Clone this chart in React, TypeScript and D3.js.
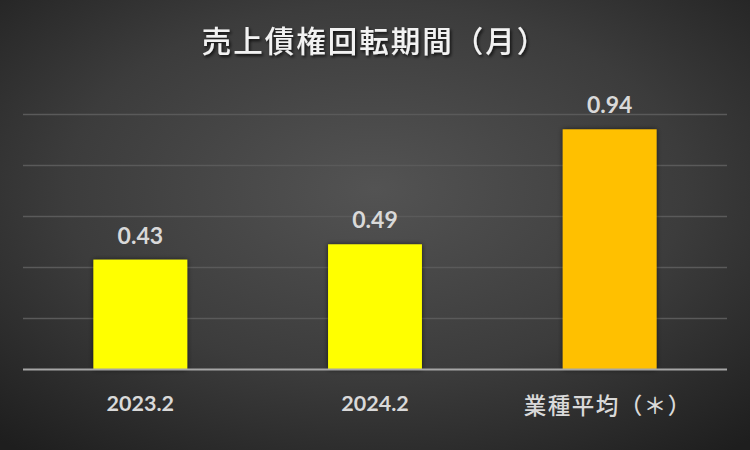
import React from "react";
import * as d3 from "d3";

const categories = ["2023.2", "2024.2", "業種平均（＊）"];
const values = [0.43, 0.49, 0.94];
const barColors = ["#FFFF00", "#FFFF00", "#FFC000"];
const valueLabels = ["0.43", "0.49", "0.94"];
const yTicks = [0, 0.2, 0.4, 0.6, 0.8, 1.0];
const title = "売上債権回転期間（月）";

const W = 750;
const H = 450;

export default function App() {
  const x = d3
    .scaleBand<string>()
    .domain(categories)
    .range([23, 727])
    .paddingInner(0.6)
    .paddingOuter(0.3);
  const y = d3.scaleLinear().domain([0, 1]).range([369.5, 114]);

  return (
    <svg
      width={W}
      height={H}
      style={{ position: "absolute", left: 0, top: 0, display: "block" }}
    >
      <defs>
        <radialGradient id="bg" cx="50%" cy="42%" r="75%">
          <stop offset="0%" stopColor="#535353" />
          <stop offset="55%" stopColor="#3c3c3c" />
          <stop offset="100%" stopColor="#1e1e1e" />
        </radialGradient>
        <filter id="tshadow" x="-10%" y="-30%" width="120%" height="160%">
          <feDropShadow dx="1.5" dy="2" stdDeviation="1.5" floodColor="#000" floodOpacity="0.75" />
        </filter>
        <filter id="bshadow" x="-20%" y="-10%" width="140%" height="120%">
          <feDropShadow dx="0" dy="0" stdDeviation="2.5" floodColor="#000" floodOpacity="0.6" />
        </filter>
      </defs>
      <rect x={0} y={0} width={W} height={H} fill="url(#bg)" />

      <text
        x={375}
        y={52}
        textAnchor="middle"
        fill="#f2f2f2"
        fontFamily="'Noto Sans CJK JP', sans-serif"
        fontSize={29.5}
        fontWeight={500}
        letterSpacing={2}
        filter="url(#tshadow)"
      >
        {title}
      </text>

      {yTicks.slice(1).map((t) => (
        <line
          key={t}
          x1={23}
          x2={727}
          y1={Math.round(y(t)) + 0.5}
          y2={Math.round(y(t)) + 0.5}
          stroke="#5a5a5a"
          strokeWidth={1.5}
        />
      ))}

      {categories.map((c, i) => (
        <rect
          key={c}
          x={x(c)}
          y={y(values[i])}
          width={x.bandwidth()}
          height={y(0) - y(values[i])}
          fill={barColors[i]}
          filter="url(#bshadow)"
        />
      ))}

      <line x1={23} x2={727} y1={y(0)} y2={y(0)} stroke="#a6a6a6" strokeWidth={2} />

      {categories.map((c, i) => (
        <text
          key={"v" + c}
          x={(x(c) as number) + x.bandwidth() / 2}
          y={y(values[i]) - 16}
          textAnchor="middle"
          fill="#d9d9d9"
          fontFamily="Lato, 'Noto Sans CJK JP', sans-serif"
          fontWeight={700}
          fontSize={23}
        >
          {valueLabels[i]}
        </text>
      ))}

      {categories.map((c, i) => {
        const cjk = /[^\x00-\x7F]/.test(c);
        return (
          <text
            key={"c" + c}
            x={(x(c) as number) + x.bandwidth() / 2 + (cjk ? -2 : 0)}
            y={cjk ? 414 : 411}
            textAnchor="middle"
            fill="#d9d9d9"
            fontFamily="Lato, 'Noto Sans CJK JP', sans-serif"
            fontWeight={cjk ? 500 : 700}
            fontSize={cjk ? 22.5 : 21.5}
            letterSpacing={cjk ? 1.5 : 0}
          >
            {c}
          </text>
        );
      })}
    </svg>
  );
}
